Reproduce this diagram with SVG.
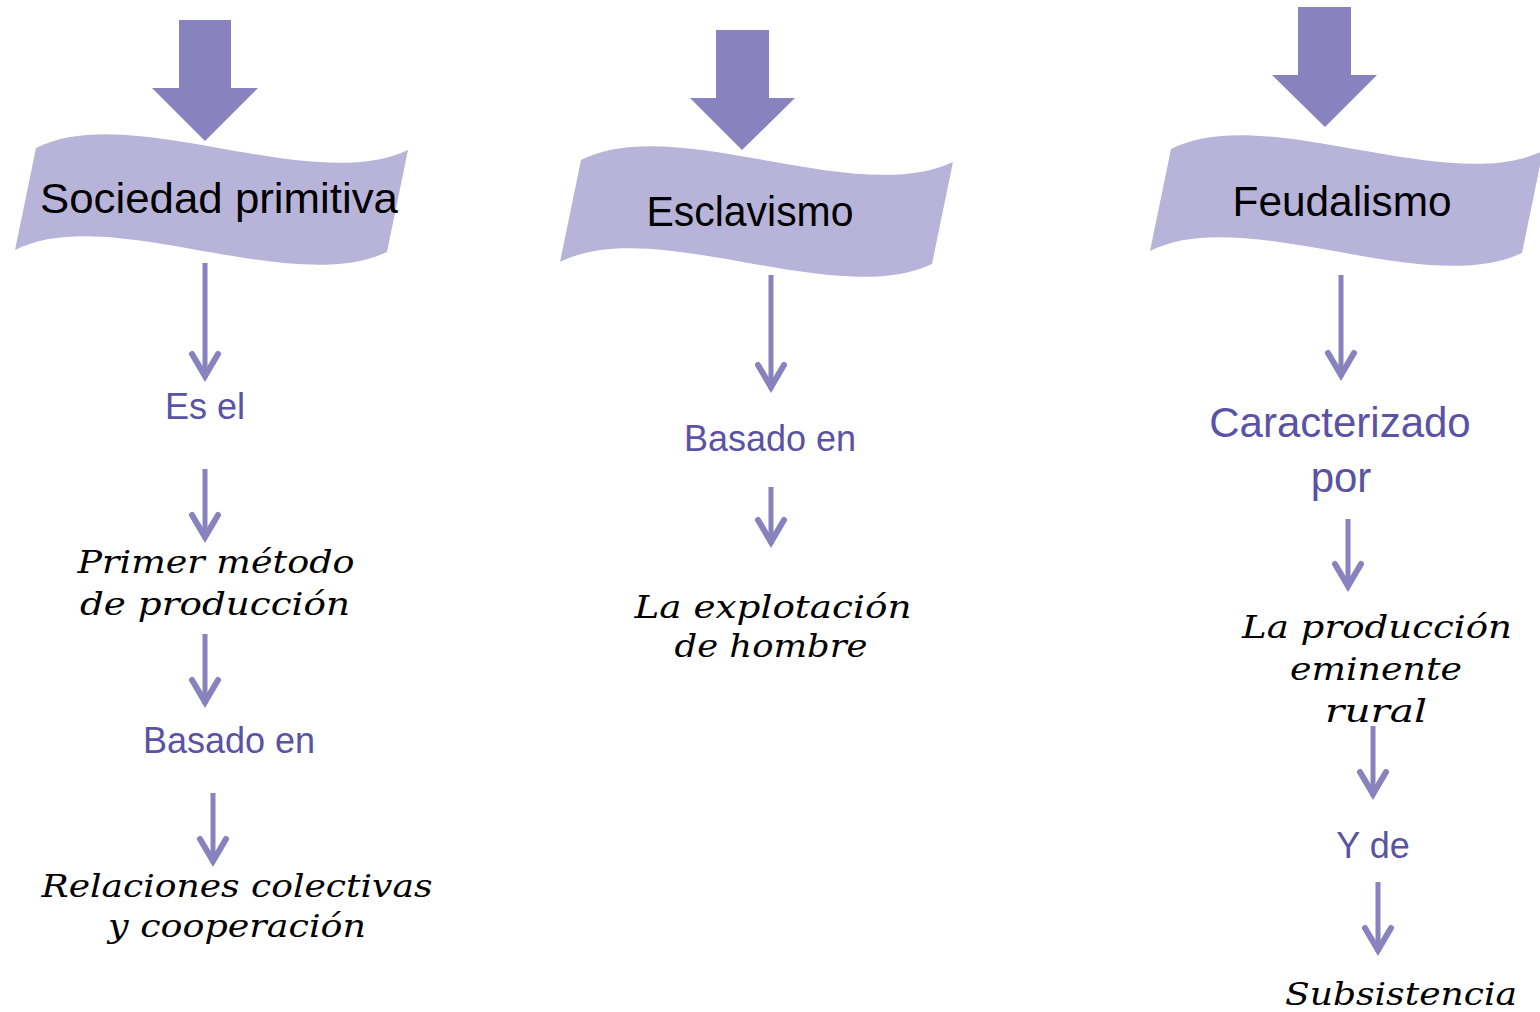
<svg xmlns="http://www.w3.org/2000/svg" width="1540" height="1012" viewBox="0 0 1540 1012">
<style>
.block{fill:#8882BE;}
.banner{fill:#B8B4D9;}
.title{font-family:"Liberation Sans",Arial,sans-serif;font-size:42px;fill:#000;text-anchor:middle;}
.lbl{font-family:"Liberation Sans",Arial,sans-serif;font-size:36px;fill:#5A52A5;text-anchor:middle;}
.lbl2{font-size:42px;}
.hand{font-family:"Segoe Script","DejaVu Serif",serif;font-style:italic;font-size:31px;fill:#000;text-anchor:middle;}
.conn{stroke:#8882BE;stroke-width:5;fill:none;marker-end:url(#head);}
</style>
<defs>
<marker id="head" markerUnits="userSpaceOnUse" viewBox="-30 -20 40 40" refX="2" refY="0" markerWidth="40" markerHeight="40" orient="auto" overflow="visible">
<path d="M-22,-13 L0,0 L-22,13" fill="none" stroke="#8882BE" stroke-width="6" stroke-linecap="round" stroke-linejoin="miter"/>
</marker>
<path id="wave" d="M36,148 C130,100 310,196 408,150 L387,252 C289,298 109,202 15,250 Z"/>
</defs>
<rect width="1540" height="1012" fill="#fff"/>

<g id="col1-top">
<polygon class="block" points="179,20 231,20 231,88 258,88 205,141 152,88 179,88"/>
</g>
<g id="sociedad-primitiva">
<use href="#wave" class="banner"/>
<text class="title" x="219" y="213" textLength="358" lengthAdjust="spacingAndGlyphs">Sociedad primitiva</text>
</g>
<g id="es-el"><text class="lbl" x="205" y="419">Es el</text></g>
<g id="primer-metodo">
<text class="hand" x="216" y="573" textLength="277" lengthAdjust="spacingAndGlyphs">Primer método</text>
<text class="hand" x="215" y="615" textLength="270" lengthAdjust="spacingAndGlyphs">de producción</text>
</g>
<g id="basado-en-1"><text class="lbl" x="229" y="753">Basado en</text></g>
<g id="relaciones">
<text class="hand" x="237" y="897" textLength="391" lengthAdjust="spacingAndGlyphs">Relaciones colectivas</text>
<text class="hand" x="237" y="937" textLength="258" lengthAdjust="spacingAndGlyphs">y cooperación</text>
</g>

<g id="col2-top">
<polygon class="block" points="716,30 769,30 769,98 795,98 742,150 690,98 716,98"/>
</g>
<g id="esclavismo">
<use href="#wave" class="banner" transform="translate(545,12)"/>
<text class="title" x="750" y="226" textLength="207" lengthAdjust="spacingAndGlyphs">Esclavismo</text>
</g>
<g id="basado-en-2"><text class="lbl" x="770" y="451">Basado en</text></g>
<g id="explotacion">
<text class="hand" x="773" y="618" textLength="277" lengthAdjust="spacingAndGlyphs">La explotación</text>
<text class="hand" x="771" y="657" textLength="193" lengthAdjust="spacingAndGlyphs">de hombre</text>
</g>

<g id="col3-top">
<polygon class="block" points="1298,7 1351,7 1351,75 1377,75 1325,127 1272,75 1298,75"/>
</g>
<g id="feudalismo">
<use href="#wave" class="banner" transform="translate(1135,1)"/>
<text class="title" x="1342" y="216" textLength="219" lengthAdjust="spacingAndGlyphs">Feudalismo</text>
</g>
<g id="caracterizado">
<text class="lbl lbl2" x="1340" y="437">Caracterizado</text>
<text class="lbl lbl2" x="1341" y="492">por</text>
</g>
<g id="produccion-rural">
<text class="hand" x="1377" y="638" textLength="270" lengthAdjust="spacingAndGlyphs">La producción</text>
<text class="hand" x="1376" y="680" textLength="172" lengthAdjust="spacingAndGlyphs">eminente</text>
<text class="hand" x="1376" y="722" textLength="102" lengthAdjust="spacingAndGlyphs">rural</text>
</g>
<g id="y-de"><text class="lbl" x="1373" y="858">Y de</text></g>
<g id="subsistencia">
<text class="hand" x="1401" y="1005" textLength="232" lengthAdjust="spacingAndGlyphs">Subsistencia</text>
</g>

<g id="connectors">
<path class="conn" d="M205,263 V378"/>
<path class="conn" d="M205,469 V539"/>
<path class="conn" d="M205,634 V704"/>
<path class="conn" d="M213,793 V863"/>
<path class="conn" d="M771,275 V389"/>
<path class="conn" d="M771,487 V544"/>
<path class="conn" d="M1341,275 V377"/>
<path class="conn" d="M1348,519 V588"/>
<path class="conn" d="M1373,726 V796"/>
<path class="conn" d="M1378,882 V952"/>
</g>
</svg>
